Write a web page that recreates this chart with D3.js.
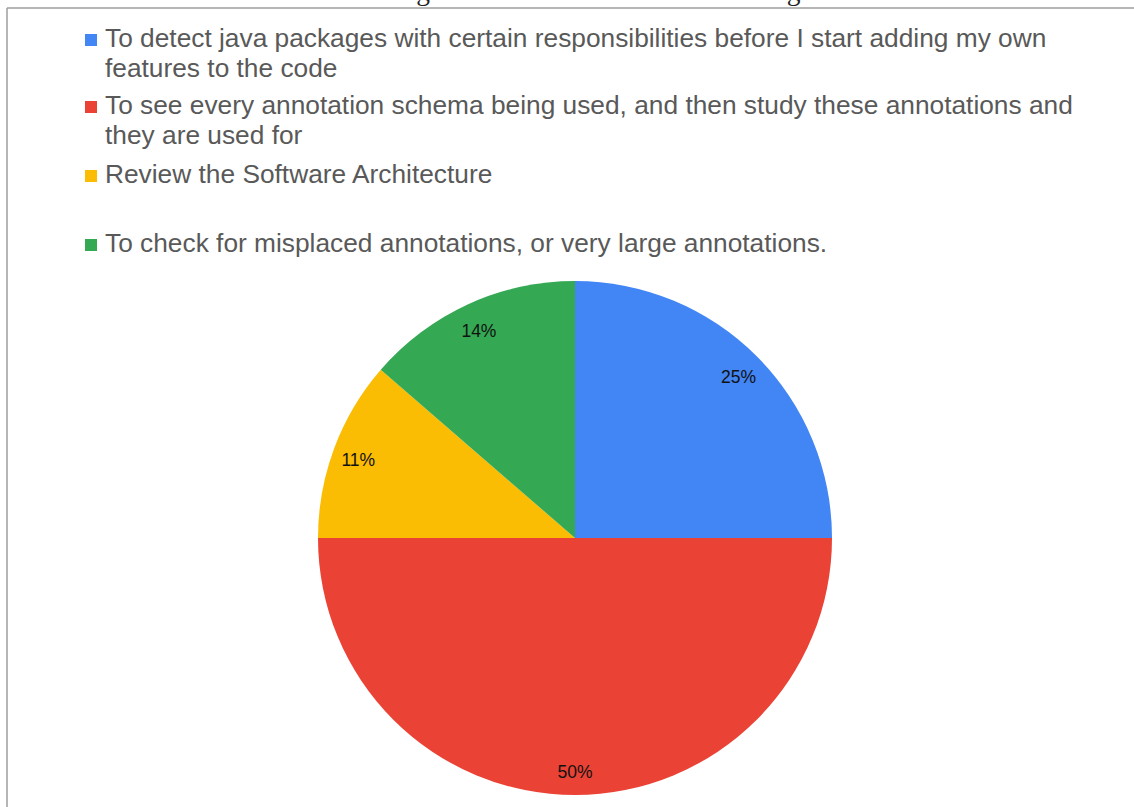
<!DOCTYPE html>
<html>
<head>
<meta charset="utf-8">
<script src="https://cdn.jsdelivr.net/npm/d3@7"></script>
<style>
  html, body { margin: 0; padding: 0; background: #fff; }
  svg { display: block; }
</style>
</head>
<body>
<svg id="chart" width="1134" height="807"></svg>
<script>
// Survey responses: why developers use the annotation views
const categories = [
  "To detect java packages with certain responsibilities before I start adding my own features to the code",
  "To see every annotation schema being used, and then study these annotations and they are used for",
  "Review the Software Architecture",
  "To check for misplaced annotations, or very large annotations."
];
// Legend text broken into the lines it is shown on
const legendLines = [
  ["To detect java packages with certain responsibilities before I start adding my own", "features to the code"],
  ["To see every annotation schema being used, and then study these annotations and", "they are used for"],
  ["Review the Software Architecture"],
  ["To check for misplaced annotations, or very large annotations."]
];
const counts = [11, 22, 5, 6];
const colors = ["#4285F4", "#EA4335", "#FBBC04", "#34A853"];
const titleText = "Figure 3.5: Individual Scenario Usage";

const svg = d3.select("#chart");

// Caption above the frame (mostly off the top edge)
svg.append("text")
  .attr("x", 603).attr("y", 0)
  .attr("text-anchor", "middle")
  .attr("font-family", "Liberation Serif, serif")
  .attr("font-size", 27.5)
  .attr("fill", "#222")
  .text(titleText);

// Frame lines
svg.append("line").attr("x1", 7).attr("y1", 8).attr("x2", 1134).attr("y2", 8)
  .attr("stroke", "#9e9e9e").attr("stroke-width", 1.5);
svg.append("line").attr("x1", 7).attr("y1", 8).attr("x2", 7).attr("y2", 807)
  .attr("stroke", "#9e9e9e").attr("stroke-width", 1.5);

// Legend
const legendBaselines = [47, 114, 183, 252];
const lineGap = 30;
const legend = svg.append("g").attr("font-family", "Arial, Liberation Sans, sans-serif");
categories.forEach((c, i) => {
  const g = legend.append("g");
  g.append("rect")
    .attr("x", 85).attr("y", legendBaselines[i] - 13)
    .attr("width", 12).attr("height", 12)
    .attr("fill", colors[i]);
  legendLines[i].forEach((ln, j) => {
    g.append("text")
      .attr("x", 105).attr("y", legendBaselines[i] + j * lineGap)
      .attr("font-size", 26.3)
      .attr("fill", "#595959")
      .text(ln);
  });
});

// Pie
const cx = 575, cy = 538, radius = 257;
const pie = d3.pie().value(d => d).sort(null);
const arcs = pie(counts);
const total = d3.sum(counts);
const arc = d3.arc().innerRadius(0).outerRadius(radius);
const labelArc = d3.arc().innerRadius(radius * 0.9).outerRadius(radius * 0.9);

const pg = svg.append("g").attr("transform", `translate(${cx},${cy})`);
pg.selectAll("path.slice")
  .data(arcs)
  .join("path")
  .attr("class", "slice")
  .attr("d", arc)
  .attr("fill", (d, i) => colors[i]);

pg.selectAll("text.pct")
  .data(arcs)
  .join("text")
  .attr("class", "pct")
  .attr("transform", d => {
    const [x, y] = labelArc.centroid(d);
    return `translate(${x},${y + 3})`;
  })
  .attr("text-anchor", "middle")
  .attr("dominant-baseline", "central")
  .attr("font-family", "Arial, Liberation Sans, sans-serif")
  .attr("font-size", 17.5)
  .attr("fill", "#111")
  .text(d => Math.round(d.value / total * 100) + "%");
</script>
</body>
</html>
